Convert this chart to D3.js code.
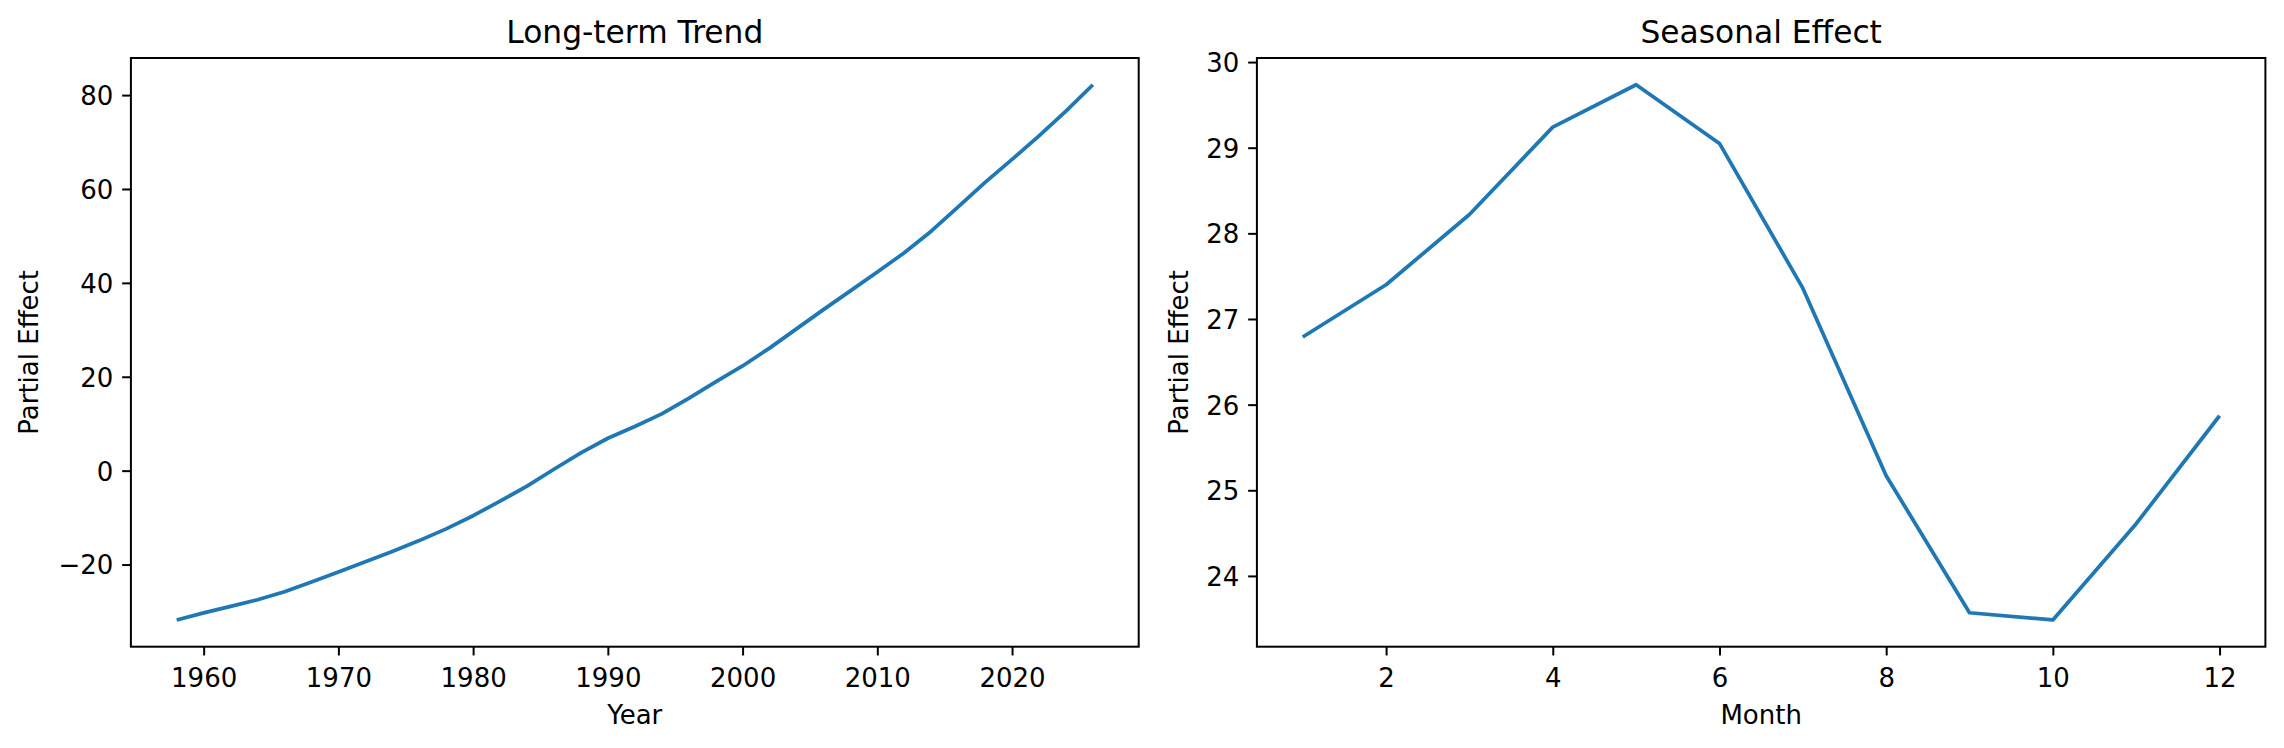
<!DOCTYPE html>
<html>
<head>
<meta charset="utf-8">
<script src="https://cdn.jsdelivr.net/npm/d3@7"></script>
<style>
  html, body { margin: 0; padding: 0; background: #fff; }
  svg { display: block; }
  text { font-family: "DejaVu Sans", sans-serif; fill: #000; }
</style>
</head>
<body>
<svg id="chart" width="2284" height="748"></svg>
<script>
// ---------- data ----------
const trendYears = [1958, 1960, 1962, 1964, 1966, 1968, 1970, 1972, 1974, 1976, 1978, 1980,
  1982, 1984, 1986, 1988, 1990, 1992, 1994, 1996, 1998, 2000, 2002, 2004, 2006, 2008,
  2010, 2012, 2014, 2016, 2018, 2020, 2022, 2024, 2026];
const trendValues = [-31.8, -30.3, -28.9, -27.5, -25.8, -23.7, -21.6, -19.4, -17.2, -14.9, -12.4, -9.6,
  -6.5, -3.3, 0.3, 3.8, 6.9, 9.4, 12.1, 15.4, 18.9, 22.3, 26.1, 30.2, 34.3, 38.3,
  42.3, 46.4, 51.0, 56.2, 61.4, 66.3, 71.3, 76.6, 82.2];

const months = [1, 2, 3, 4, 5, 6, 7, 8, 9, 10, 11, 12];
const seasonalValues = [26.79, 27.40, 28.22, 29.24, 29.735, 29.05, 27.36, 25.17, 23.57, 23.486, 24.61, 25.87];

const trendXTicks = [1960, 1970, 1980, 1990, 2000, 2010, 2020];
const trendYTicks = [-20, 0, 20, 40, 60, 80];
const seasonXTicks = [2, 4, 6, 8, 10, 12];
const seasonYTicks = [24, 25, 26, 27, 28, 29, 30];

const titles = ["Long-term Trend", "Seasonal Effect"];
const xLabels = ["Year", "Month"];
const yLabel = "Partial Effect";

// ---------- layout ----------
const svg = d3.select("#chart");
const plotTop = 58, plotBottom = 646.7;
const panels = [
  { left: 130.9, right: 1138.7, xs: trendYears, ys: trendValues, xt: trendXTicks, yt: trendYTicks,
    title: titles[0], xl: xLabels[0], ylX: 38 },
  { left: 1256.9, right: 2265.4, xs: months, ys: seasonalValues, xt: seasonXTicks, yt: seasonYTicks,
    title: titles[1], xl: xLabels[1], ylX: 1188 }
];

const fmt = d => d < 0 ? "\u2212" + Math.abs(d) : String(d);
const padExt = ext => { const r = ext[1] - ext[0]; return [ext[0] - 0.05 * r, ext[1] + 0.05 * r]; };
const tickLen = 8.75, tickPad = 8.75, fs = 26, tfs = 31.3;

panels.forEach(p => {
  const x = d3.scaleLinear().domain(padExt(d3.extent(p.xs))).range([p.left, p.right]);
  const y = d3.scaleLinear().domain(padExt(d3.extent(p.ys))).range([plotBottom, plotTop]);

  // x axis
  const gx = svg.append("g").attr("transform", `translate(0,${plotBottom})`)
    .call(d3.axisBottom(x).tickValues(p.xt).tickFormat(fmt).tickSize(tickLen).tickPadding(tickPad));
  gx.select(".domain").remove();
  gx.selectAll(".tick line").attr("stroke", "#000").attr("stroke-width", 2);
  gx.selectAll(".tick text").attr("dy", null).attr("y", 40)
    .style("font-size", fs + "px").style("font-family", "DejaVu Sans").attr("fill", "#000");

  // y axis
  const gy = svg.append("g").attr("transform", `translate(${p.left},0)`)
    .call(d3.axisLeft(y).tickValues(p.yt).tickFormat(fmt).tickSize(tickLen).tickPadding(tickPad));
  gy.select(".domain").remove();
  gy.selectAll(".tick line").attr("stroke", "#000").attr("stroke-width", 2);
  gy.selectAll(".tick text").attr("dy", "0.36em")
    .style("font-size", fs + "px").style("font-family", "DejaVu Sans").attr("fill", "#000");

  // line
  const line = d3.line().x((d, i) => x(p.xs[i])).y(d => y(d));
  svg.append("path").datum(p.ys).attr("d", line)
    .attr("fill", "none").attr("stroke", "#1f77b4").attr("stroke-width", 3.75)
    .attr("stroke-linejoin", "round").attr("stroke-linecap", "butt");

  // frame
  svg.append("rect").attr("x", p.left).attr("y", plotTop)
    .attr("width", p.right - p.left).attr("height", plotBottom - plotTop)
    .attr("fill", "none").attr("stroke", "#000").attr("stroke-width", 2);

  const cx = (p.left + p.right) / 2;
  svg.append("text").attr("x", cx).attr("y", 43).attr("text-anchor", "middle")
    .style("font-size", tfs + "px").text(p.title);
  svg.append("text").attr("x", cx).attr("y", 724).attr("text-anchor", "middle")
    .style("font-size", fs + "px").text(p.xl);
  svg.append("text").attr("transform", `translate(${p.ylX},${(plotTop + plotBottom) / 2}) rotate(-90)`)
    .attr("text-anchor", "middle").style("font-size", fs + "px").text(yLabel);
});
</script>
</body>
</html>
